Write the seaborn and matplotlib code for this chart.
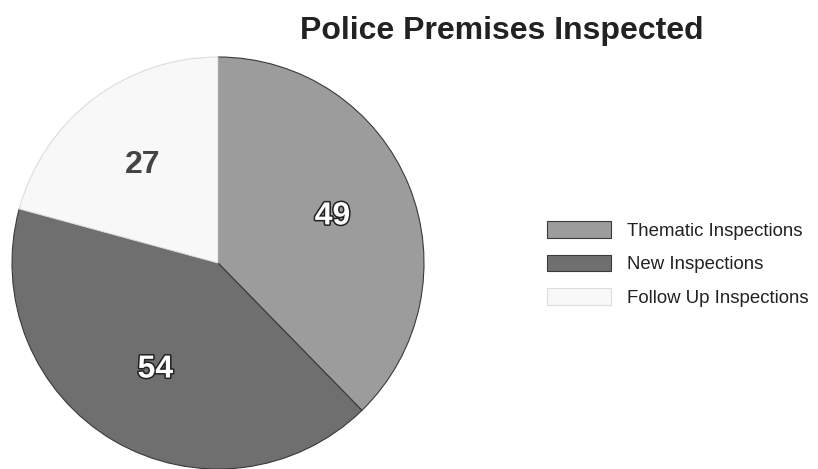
import matplotlib
matplotlib.use("Agg")
import matplotlib.pyplot as plt
import matplotlib.patheffects as pe
import seaborn as sns

categories = ["Thematic Inspections", "New Inspections", "Follow Up Inspections"]
values = [49, 54, 27]
colors = ["#9c9c9c", "#6f6f6f", "#f8f8f8"]
title = "Police Premises Inspected"

sns.set_theme(style="white")
plt.rcParams["font.family"] = ["Liberation Sans", "DejaVu Sans"]

fig = plt.figure(figsize=(8.18, 4.69), dpi=100)
ax = fig.add_axes([12 / 818, 0.0, 412 / 818, 412 / 469])
total = sum(values)
wedges, texts, autotexts = ax.pie(
    values, colors=colors, startangle=90, counterclock=False,
    autopct=lambda p: f"{round(p * total / 100):d}", pctdistance=0.6,
    wedgeprops=dict(edgecolor="#3a3a3a", linewidth=0.8),
    textprops=dict(fontsize=23, fontweight="bold"),
)
wedges[2].set_edgecolor("#dddddd")
for i, t in enumerate(autotexts):
    if i < 2:
        t.set_color("white")
        t.set_path_effects([pe.withStroke(linewidth=2.2, foreground="#222222")])
    else:
        t.set_color("#444444")
ax.set_xlim(-1, 1)
ax.set_ylim(-1, 1)
ax.set_aspect("equal")
ax.axis("off")

fig.text(502 / 818, 1 - 31 / 469, title, ha="center", va="center", fontsize=23,
         fontweight="bold", color="#222222")

leg = fig.legend(wedges, categories, loc="upper left",
                 bbox_to_anchor=(540 / 818, 1 - 214 / 469), frameon=False,
                 fontsize=13.4, handlelength=3.4, handleheight=1.0,
                 labelspacing=0.78, handletextpad=0.85, borderaxespad=0)
for t in leg.get_texts():
    t.set_color("#222222")

fig.savefig("out.png", dpi=100)
